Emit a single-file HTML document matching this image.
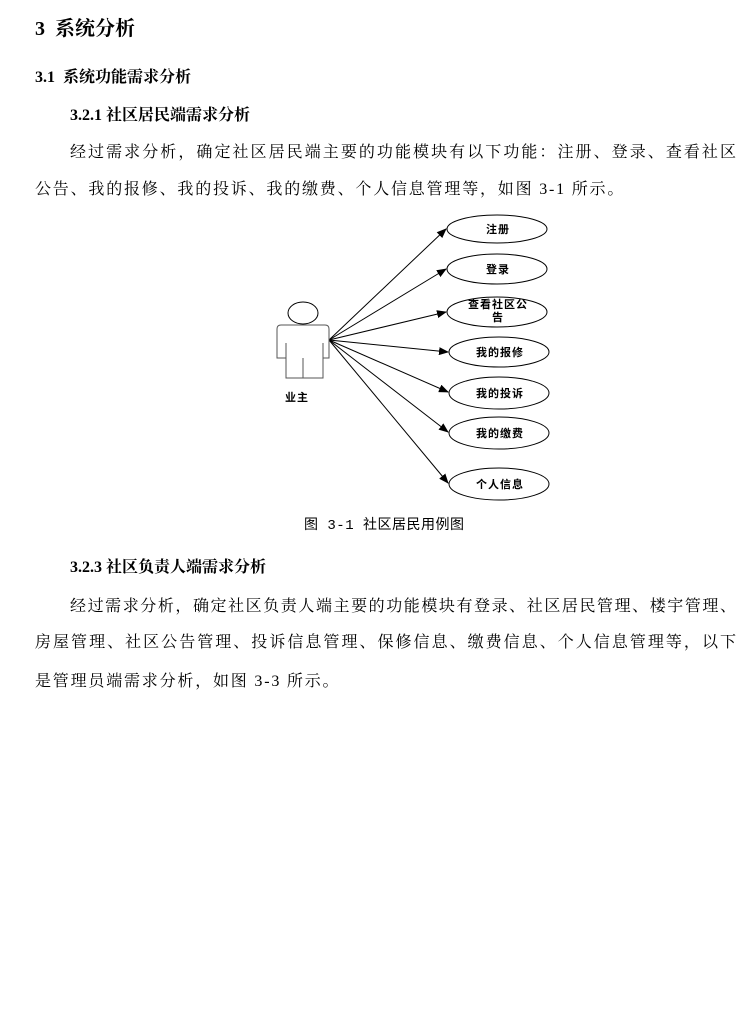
<!DOCTYPE html>
<html><head><meta charset="utf-8"><style>
body{margin:0;width:752px;height:1010px;background:#fff;position:relative;overflow:hidden;color:#000}
.t{position:absolute;white-space:nowrap;font-family:"Liberation Serif","Noto Serif CJK SC",serif;}
.h{font-weight:bold}
.p{font-size:16px;line-height:18px;height:18px;text-align:justify;text-align-last:justify}
.pl{font-size:16px;line-height:18px;letter-spacing:1.8px}
</style></head><body>
<div class="t h" style="left:35px;top:17px;font-size:20px;line-height:24px">3&nbsp; 系统分析</div>
<div class="t h" style="left:35px;top:68px;font-size:16px;line-height:20px">3.1&nbsp; 系统功能需求分析</div>
<div class="t h" style="left:70px;top:106px;font-size:16px;line-height:20px">3.2.1 社区居民端需求分析</div>
<div class="t p" style="left:70px;top:144px;width:666px">经过需求分析，确定社区居民端主要的功能模块有以下功能：注册、登录、查看社区</div>
<div class="t pl" style="left:35px;top:181px">公告、我的报修、我的投诉、我的缴费、个人信息管理等，如图 3-1 所示。</div>

<svg style="position:absolute;left:0;top:0" width="752" height="1010">
<defs><marker id="a" markerWidth="10" markerHeight="8" refX="9" refY="4" orient="auto" markerUnits="userSpaceOnUse"><path d="M0,0L10,4L0,8z" fill="#000"/></marker></defs>
<g stroke="#000" stroke-width="1" fill="none">
<line x1="329" y1="340" x2="446" y2="229" marker-end="url(#a)"/>
<line x1="329" y1="340" x2="446" y2="269" marker-end="url(#a)"/>
<line x1="329" y1="340" x2="446" y2="312" marker-end="url(#a)"/>
<line x1="329" y1="340" x2="448" y2="352" marker-end="url(#a)"/>
<line x1="329" y1="340" x2="448" y2="392" marker-end="url(#a)"/>
<line x1="329" y1="340" x2="448" y2="432" marker-end="url(#a)"/>
<line x1="329" y1="340" x2="448" y2="483" marker-end="url(#a)"/>
<ellipse cx="497" cy="229" rx="50" ry="14"/>
<ellipse cx="497" cy="269" rx="50" ry="15"/>
<ellipse cx="497" cy="312" rx="50" ry="15"/>
<ellipse cx="499" cy="352" rx="50" ry="15"/>
<ellipse cx="499" cy="393" rx="50" ry="16"/>
<ellipse cx="499" cy="433" rx="50" ry="16"/>
<ellipse cx="499" cy="484" rx="50" ry="16"/>
<ellipse cx="303" cy="313" rx="15" ry="11"/>
<path d="M281,325H325Q329,325 329,329V358H323V378H286V358H277V329Q277,325 281,325Z" stroke="#555"/>
<line x1="286" y1="343" x2="286" y2="358" stroke="#555"/>
<line x1="323" y1="343" x2="323" y2="358" stroke="#555"/>
<line x1="303" y1="358" x2="303" y2="378" stroke="#555"/>
</g>
<g font-family="Liberation Sans,Noto Sans CJK SC,sans-serif" font-size="11" font-weight="bold" text-anchor="middle" letter-spacing="1">
<text x="498" y="233">注册</text>
<text x="498" y="273">登录</text>
<text x="498" y="308">查看社区公</text>
<text x="498" y="321">告</text>
<text x="500" y="356">我的报修</text>
<text x="500" y="397">我的投诉</text>
<text x="500" y="437">我的缴费</text>
<text x="500" y="488">个人信息</text>
<text x="297" y="401">业主</text>
</g>
</svg>

<div class="t" style="left:304px;top:517px;font-size:14px;line-height:18px;letter-spacing:0.5px;font-family:'Liberation Mono','Noto Sans CJK SC',sans-serif">图 3-1 社区居民用例图</div>
<div class="t h" style="left:70px;top:558px;font-size:16px;line-height:20px">3.2.3 社区负责人端需求分析</div>
<div class="t p" style="left:70px;top:598px;width:666px">经过需求分析，确定社区负责人端主要的功能模块有登录、社区居民管理、楼宇管理、</div>
<div class="t p" style="left:35px;top:634px;width:701px">房屋管理、社区公告管理、投诉信息管理、保修信息、缴费信息、个人信息管理等，以下</div>
<div class="t pl" style="left:35px;top:673px">是管理员端需求分析，如图 3-3 所示。</div>
</body></html>
